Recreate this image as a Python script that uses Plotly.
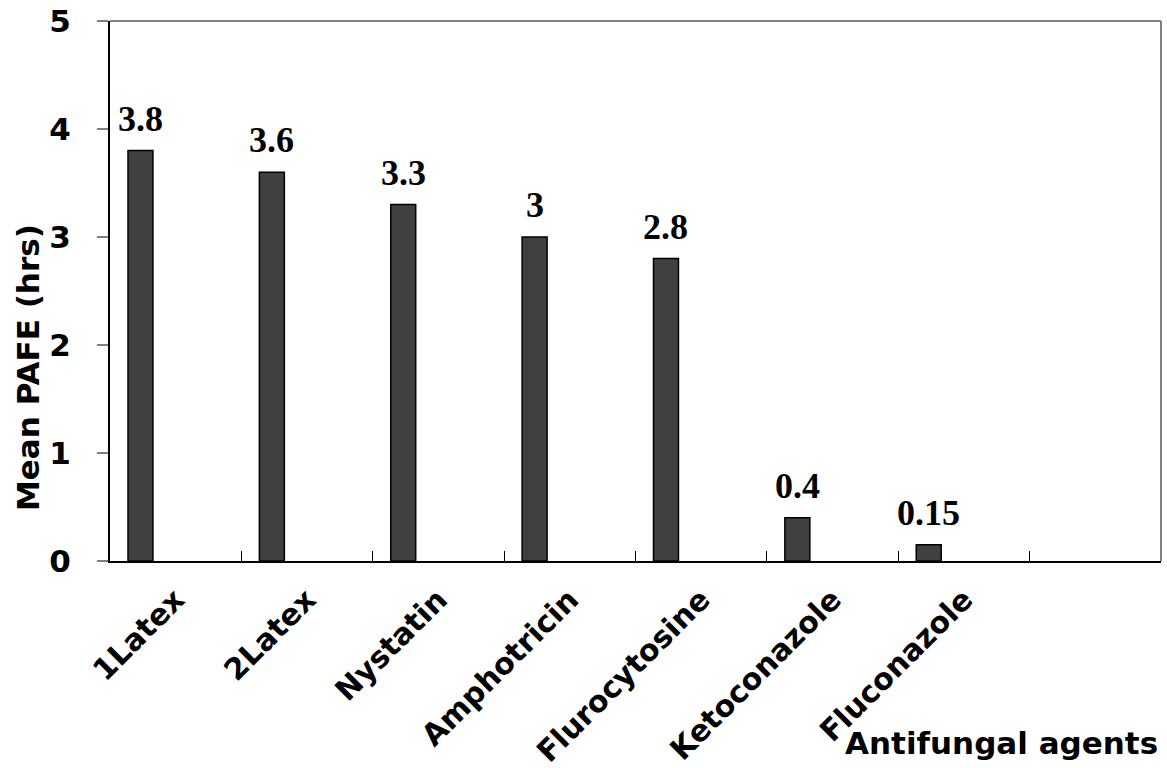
import plotly.graph_objects as go

categories = ["1Latex", "2Latex", "Nystatin", "Amphotricin", "Flurocytosine", "Ketoconazole", "Fluconazole"]
values = [3.8, 3.6, 3.3, 3.0, 2.8, 0.4, 0.15]
value_labels = ["3.8", "3.6", "3.3", "3", "2.8", "0.4", "0.15"]
y_ticks = [0, 1, 2, 3, 4, 5]

SANS = "DejaVu Sans"
SERIF = "Liberation Serif"
BAR_OFFSET = -0.363
BAR_WIDTH = 0.19

fig = go.Figure()
fig.add_trace(go.Bar(
    x=categories, y=values,
    offset=BAR_OFFSET, width=BAR_WIDTH,
    marker=dict(color="#404040", line=dict(color="#000000", width=1.5)),
    hoverinfo="skip",
))

for i, (v, lab) in enumerate(zip(values, value_labels)):
    fig.add_annotation(
        x=i + BAR_OFFSET + BAR_WIDTH / 2, y=v, xref="x", yref="y",
        text=lab, showarrow=False, yanchor="bottom", xanchor="center", yshift=10,
        font=dict(family=SERIF, size=36, color="#000000", weight="bold"),
    )

# axis titles
fig.add_annotation(
    x=(28 - 110) / 1051, y=(561 - 368) / 540, xref="paper", yref="paper",
    text="Mean PAFE (hrs)", textangle=-90, showarrow=False,
    xanchor="center", yanchor="middle",
    font=dict(family=SANS, size=31, color="#000000", weight="bold"),
)
fig.add_annotation(
    x=(1160 - 110) / 1051, y=(561 - 743) / 540, xref="paper", yref="paper",
    text="Antifungal agents", showarrow=False,
    xanchor="right", yanchor="middle",
    font=dict(family=SANS, size=31, color="#000000", weight="bold"),
)

# gray top and right borders
fig.add_shape(type="line", xref="paper", yref="paper", x0=0, x1=1, y0=1, y1=1,
              line=dict(color="#808080", width=2))
fig.add_shape(type="line", xref="paper", yref="paper", x0=1, x1=1, y0=0, y1=1,
              line=dict(color="#808080", width=2))

fig.update_layout(
    width=1167, height=768,
    margin=dict(l=110, r=6, t=21, b=207, autoexpand=False),
    paper_bgcolor="#ffffff", plot_bgcolor="#ffffff",
    showlegend=False,
    xaxis=dict(
        type="category", range=[-0.5, 7.5], automargin=False,
        showgrid=False, zeroline=False,
        showline=True, linecolor="#000000", linewidth=2,
        ticks="inside", ticklen=10, tickwidth=1, tickcolor="#000000",
        tickson="boundaries",
        tickangle=-45, ticklabelstandoff=7,
        tickfont=dict(family=SANS, size=30, color="#000000", weight="bold"),
    ),
    yaxis=dict(
        range=[0, 5], tickvals=y_ticks, automargin=False,
        showgrid=False, zeroline=False,
        showline=True, linecolor="#000000", linewidth=2,
        ticks="outside", ticklen=11, tickwidth=1.5, tickcolor="#808080",
        ticklabelstandoff=20,
        tickfont=dict(family=SANS, size=31, color="#000000", weight="bold"),
    ),
)

fig.write_html(
    "out.html",
    config={"displayModeBar": False},
    post_script="document.body.style.margin='0';document.body.style.overflow='hidden';",
)
